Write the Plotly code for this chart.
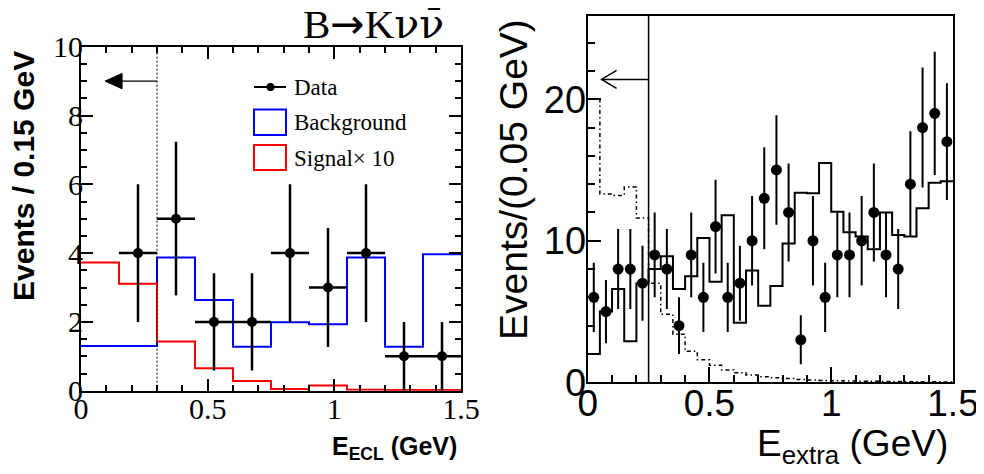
import plotly.graph_objects as go

# ---------------- Left panel: E_ECL, 0.15 GeV bins ----------------
ecl_edges = [0.0, 0.15, 0.30, 0.45, 0.60, 0.75, 0.90, 1.05, 1.20, 1.35, 1.50]
ecl_data = [0, 4, 5, 2, 2, 4, 3, 4, 1, 1]
ecl_background = [1.30, 1.30, 3.87, 2.64, 1.28, 1.99, 1.93, 3.87, 1.28, 3.97]
ecl_signal_x10 = [3.73, 3.11, 1.43, 0.65, 0.28, 0.05, 0.15, 0.03, 0.02, 0.02]
ecl_cut = 0.30
ecl_arrow_y = 9.0
ecl_arrow_tip = 0.095

# ---------------- Right panel: E_extra, 0.05 GeV bins ----------------
extra_edges = [0.00, 0.05, 0.10, 0.15, 0.20, 0.25, 0.30, 0.35, 0.40, 0.45, 0.50,
               0.55, 0.60, 0.65, 0.70, 0.75, 0.80, 0.85, 0.90, 0.95, 1.00,
               1.05, 1.10, 1.15, 1.20, 1.25, 1.30, 1.35, 1.40, 1.45, 1.50]
extra_data = [6, 5, 8, 8, 7, 9, 8, 4, 9, 6, 11, 6, 7, 10, 13, 15, 12, 3, 10, 6,
              9, 9, 10, 12, 9, 8, 14, 18, 19, 17]
extra_mc = [2.0, 5.0, 6.6, 2.9, 7.0, 8.0, 8.9, 6.6, 7.5, 10.2, 7.1, 11.8, 4.2, 7.9,
            5.4, 6.8, 9.8, 13.4, 13.35, 15.5, 12.05, 10.6, 10.3, 9.4, 12.0, 10.4,
            10.3, 12.3, 14.1, 14.2]
extra_signal = [20.0, 13.3, 13.2, 13.8, 11.6, 7.0, 4.8, 3.4, 2.2, 1.6, 1.2, 0.87,
                0.68, 0.52, 0.40, 0.33, 0.26, 0.20, 0.16, 0.13, 0.11, 0.09, 0.08,
                0.07, 0.06, 0.05, 0.045, 0.04, 0.035, 0.03]
extra_cut = 0.25
extra_arrow_y = 21.4
extra_arrow_tip = 0.057

tick_vals_x = [0, 0.5, 1, 1.5]
tick_text_x = ["0", "0.5", "1", "1.5"]
ecl_tick_vals_y = [0, 2, 4, 6, 8, 10]
extra_tick_vals_y = [0, 10, 20]

# page is 984x474; the html body adds an 8px margin before the figure
PAGE_W, PAGE_H = 984, 474
OFF = 8
W, H = PAGE_W - OFF, PAGE_H - 2 * OFF
SERIF = "Liberation Serif"
SANS = "Liberation Sans"


def px_x(p):
    return (p - OFF) / W


def px_y(p):
    return 1 - (p - OFF) / H


def centers(edges):
    return [(edges[i] + edges[i + 1]) / 2 for i in range(len(edges) - 1)]


def step(edges, vals):
    return list(edges), list(vals) + [vals[-1]]


fig = go.Figure()

# ---- left panel traces ----
bx, by = step(ecl_edges, ecl_background)
fig.add_trace(go.Scatter(x=bx, y=by, mode="lines", line=dict(color="#0000ff", width=2, shape="hv"),
                         xaxis="x", yaxis="y", showlegend=False, hoverinfo="skip"))
sx, sy = step(ecl_edges, ecl_signal_x10)
fig.add_trace(go.Scatter(x=sx, y=sy, mode="lines", line=dict(color="#ff0000", width=2, shape="hv"),
                         xaxis="x", yaxis="y", showlegend=False, hoverinfo="skip"))
ecl_c = centers(ecl_edges)
dx = [c for c, v in zip(ecl_c, ecl_data) if v > 0]
dy = [v for v in ecl_data if v > 0]
half = [(ecl_edges[1] - ecl_edges[0]) / 2] * len(dx)
fig.add_trace(go.Scatter(x=dx, y=dy, mode="markers", marker=dict(color="black", size=10),
                         error_y=dict(type="data", array=[v ** 0.5 for v in dy], color="black", thickness=2.5, width=0),
                         error_x=dict(type="data", array=half, color="black", thickness=2.5, width=0),
                         xaxis="x", yaxis="y", showlegend=False))
# arrow line (left)
fig.add_trace(go.Scatter(x=[ecl_cut, ecl_arrow_tip + 0.05], y=[ecl_arrow_y, ecl_arrow_y], mode="lines",
                         line=dict(color="black", width=1.2), xaxis="x", yaxis="y", showlegend=False, hoverinfo="skip"))

# ---- right panel traces ----
mx, my = step(extra_edges, extra_mc)
fig.add_trace(go.Scatter(x=mx, y=my, mode="lines", line=dict(color="black", width=2, shape="hv"),
                         xaxis="x2", yaxis="y2", showlegend=False, hoverinfo="skip"))
gx, gy = step(extra_edges, extra_signal)
fig.add_trace(go.Scatter(x=gx, y=gy, mode="lines",
                         line=dict(color="black", width=1.5, shape="hv", dash="4px,3px,1.5px,3px"),
                         xaxis="x2", yaxis="y2", showlegend=False, hoverinfo="skip"))
ex_c = centers(extra_edges)
fig.add_trace(go.Scatter(x=ex_c, y=extra_data, mode="markers", marker=dict(color="black", size=11),
                         error_y=dict(type="data", array=[v ** 0.5 for v in extra_data], color="black", thickness=2, width=0),
                         xaxis="x2", yaxis="y2", showlegend=False))
fig.add_trace(go.Scatter(x=[extra_cut, extra_arrow_tip], y=[extra_arrow_y, extra_arrow_y], mode="lines",
                         line=dict(color="black", width=1.5), xaxis="x2", yaxis="y2", showlegend=False, hoverinfo="skip"))

shapes = [
    # left cut line (dotted)
    dict(type="line", xref="x", yref="y domain", x0=ecl_cut, x1=ecl_cut, y0=0, y1=1,
         line=dict(color="black", width=1, dash="2px,2px")),
    # left arrow head (filled triangle)
    dict(type="path", xref="x", yref="y", xsizemode="pixel", ysizemode="pixel",
         xanchor=ecl_arrow_tip, yanchor=ecl_arrow_y,
         path="M 0,0 L 17,7.7 L 17,-7.7 Z", fillcolor="black", line=dict(color="black", width=1)),
    # right cut line
    dict(type="line", xref="x2", yref="y2 domain", x0=extra_cut, x1=extra_cut, y0=0, y1=1,
         line=dict(color="black", width=1.5)),
    # right arrow head (open chevron)
    dict(type="path", xref="x2", yref="y2", xsizemode="pixel", ysizemode="pixel",
         xanchor=extra_arrow_tip, yanchor=extra_arrow_y,
         path="M 15,9 L 0,0 L 15,-9", line=dict(color="black", width=1.5)),
]

# ---- manual legend (left panel) ----
shapes += [
    dict(type="line", xref="paper", yref="paper", x0=px_x(254), x1=px_x(286), y0=px_y(87), y1=px_y(87),
         line=dict(color="black", width=2)),
    dict(type="circle", xref="paper", yref="paper", x0=px_x(266.5), x1=px_x(274.5), y0=px_y(83), y1=px_y(91),
         fillcolor="black", line=dict(color="black", width=0)),
    dict(type="rect", xref="paper", yref="paper", x0=px_x(254), x1=px_x(286), y0=px_y(109.5), y1=px_y(135),
         line=dict(color="#0000ff", width=2)),
    dict(type="rect", xref="paper", yref="paper", x0=px_x(254), x1=px_x(286), y0=px_y(145), y1=px_y(170),
         line=dict(color="#ff0000", width=2)),
]

title_text = ("B<span style='font-family:DejaVu Sans'>→</span>K"
              "<span style='font-family:DejaVu Serif'>νν\u0304</span>")

annotations = [
    dict(text="Data", x=px_x(292), y=px_y(87), xref="paper", yref="paper", xanchor="left", yanchor="middle",
         showarrow=False, font=dict(family=SERIF, size=23, color="black")),
    dict(text="Background", x=px_x(292), y=px_y(123), xref="paper", yref="paper", xanchor="left", yanchor="middle",
         showarrow=False, font=dict(family=SERIF, size=23, color="black")),
    dict(text="Signal× 10", x=px_x(292), y=px_y(158), xref="paper", yref="paper", xanchor="left", yanchor="middle",
         showarrow=False, font=dict(family=SERIF, size=23, color="black")),
    # title
    dict(text=title_text, x=px_x(446), y=px_y(24),
         xref="paper", yref="paper", xanchor="right", yanchor="middle",
         showarrow=False, font=dict(family=SERIF, size=41, color="black")),
    # left axis titles
    dict(text="<b>Events / 0.15 GeV</b>", x=px_x(24), y=px_y(176), xref="paper", yref="paper",
         xanchor="center", yanchor="middle", textangle=-90, showarrow=False,
         font=dict(family=SANS, size=30, color="black")),
    dict(text="<b>E<sub>ECL</sub> (GeV)</b>", x=px_x(459), y=px_y(448), xref="paper", yref="paper",
         xanchor="right", yanchor="middle", showarrow=False,
         font=dict(family=SANS, size=25, color="black")),
    # right axis titles
    dict(text="Events/(0.05 GeV)", x=px_x(513), y=px_y(180), xref="paper", yref="paper",
         xanchor="center", yanchor="middle", textangle=-90, showarrow=False,
         font=dict(family=SANS, size=39, color="black")),
    dict(text="E<sub>extra</sub> (GeV)", x=px_x(950), y=px_y(446), xref="paper", yref="paper",
         xanchor="right", yanchor="middle", showarrow=False,
         font=dict(family=SANS, size=37, color="black")),
]

common_axis = dict(showgrid=False, zeroline=False, showline=True, linecolor="black", linewidth=2,
                   ticks="inside", tickcolor="black", automargin=False, ticklabeloverflow="allow")

fig.update_layout(
    width=W, height=H,
    margin=dict(l=0, r=0, t=0, b=0, pad=0, autoexpand=False),
    paper_bgcolor="white", plot_bgcolor="white",
    showlegend=False,
    shapes=shapes,
    annotations=annotations,
    xaxis=dict(domain=[px_x(81), px_x(461)], anchor="y", range=[0, 1.5],
               tickvals=tick_vals_x, ticktext=tick_text_x, ticklen=12, tickwidth=1.5, mirror="ticks",
               ticklabelstandoff=-10,
               tickfont=dict(family=SERIF, size=30, color="black"),
               minor=dict(dtick=0.1, tick0=0, ticks="inside", ticklen=6, tickwidth=1.5, tickcolor="black"),
               **common_axis),
    yaxis=dict(domain=[px_y(390.7), px_y(46.7)], anchor="x", range=[0, 10],
               tickvals=ecl_tick_vals_y, ticklen=12, tickwidth=1.5, mirror="ticks",
               ticklabelstandoff=-10,
               tickfont=dict(family=SERIF, size=30, color="black"),
               minor=dict(dtick=0.5, tick0=0, ticks="inside", ticklen=6, tickwidth=1.5, tickcolor="black"),
               **common_axis),
    xaxis2=dict(domain=[px_x(587.7), px_x(953)], anchor="y2", range=[0, 1.5],
                tickvals=tick_vals_x, ticktext=tick_text_x, ticklen=15, tickwidth=1.5, mirror=True,
                ticklabelstandoff=-13,
                tickfont=dict(family=SANS, size=37, color="black"),
                minor=dict(dtick=0.1, tick0=0, ticks="inside", ticklen=7, tickwidth=1.5, tickcolor="black"),
                **common_axis),
    yaxis2=dict(domain=[px_y(382.3), px_y(15.7)], anchor="x2", range=[0, 25.9],
                tickvals=extra_tick_vals_y, ticklen=13, tickwidth=1.5, mirror=True,
                ticklabelstandoff=-8,
                tickfont=dict(family=SANS, size=38, color="black"),
                minor=dict(dtick=2, tick0=0, ticks="inside", ticklen=7, tickwidth=1.5, tickcolor="black"),
                **common_axis),
)

fig.write_html("out.html")
